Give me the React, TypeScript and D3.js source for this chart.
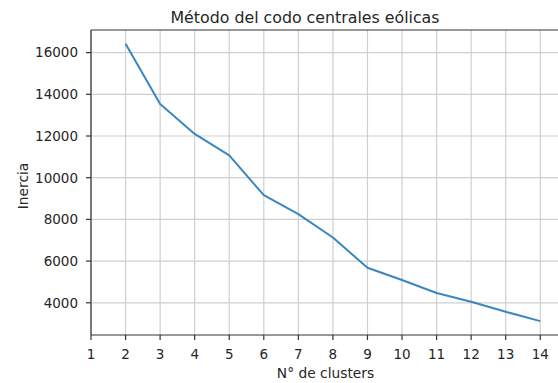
import React from "react";
import * as d3 from "d3";

const clusters = [2, 3, 4, 5, 6, 7, 8, 9, 10, 11, 12, 13, 14];
const inertia = [16420, 13540, 12100, 11070, 9160, 8250, 7130, 5680, 5090, 4470, 4050, 3570, 3120];
const xTicks = [1, 2, 3, 4, 5, 6, 7, 8, 9, 10, 11, 12, 13, 14];
const yTicks = [4000, 6000, 8000, 10000, 12000, 14000, 16000];

const W = 558;
const H = 383;
const M = { left: 91, top: 30, right: 561, bottom: 335 };

export default function App() {
  const [minV, maxV] = d3.extent(inertia) as [number, number];
  const pad = (maxV - minV) * 0.05;
  const x = d3.scaleLinear().domain([1, 14.6]).range([M.left, M.right]);
  const y = d3.scaleLinear().domain([minV - pad, maxV + pad]).range([M.bottom, M.top]);
  const line = d3
    .line<number>()
    .x((_, i) => x(clusters[i]))
    .y((d) => y(d));
  const font = "DejaVu Sans, sans-serif";
  const grid = "#cfcfcf";
  const axis = "#333";
  const txt = "#262626";
  return (
    <div style={{ position: "fixed", left: 0, top: 0 }}>
      <svg width={W} height={H} style={{ display: "block", background: "#fff" }} fontFamily={font}>
        {xTicks.map((t) => (
          <line key={"gx" + t} x1={x(t)} x2={x(t)} y1={M.top} y2={M.bottom} stroke={grid} strokeWidth={1.2} />
        ))}
        {yTicks.map((t) => (
          <line key={"gy" + t} x1={M.left} x2={M.right} y1={y(t)} y2={y(t)} stroke={grid} strokeWidth={1.2} />
        ))}
        <path d={line(inertia) || ""} fill="none" stroke="#3a87c0" strokeWidth={2} strokeLinejoin="round" />
        <line x1={M.left} x2={M.left} y1={M.top} y2={M.bottom} stroke={axis} strokeWidth={1.2} />
        <line x1={M.left} x2={M.right} y1={M.bottom} y2={M.bottom} stroke={axis} strokeWidth={1.2} />
        <line x1={M.left} x2={M.right} y1={M.top} y2={M.top} stroke={axis} strokeWidth={1.2} />
        {xTicks.map((t) => (
          <g key={"tx" + t}>
            <line x1={x(t)} x2={x(t)} y1={M.bottom} y2={M.bottom + 5} stroke={axis} strokeWidth={1.2} />
            <text x={x(t)} y={359} textAnchor="middle" fontSize={13.5} fill={txt}>
              {t}
            </text>
          </g>
        ))}
        {yTicks.map((t) => (
          <g key={"ty" + t}>
            <line x1={M.left - 5} x2={M.left} y1={y(t)} y2={y(t)} stroke={axis} strokeWidth={1.2} />
            <text x={78} y={y(t)} dy="0.36em" textAnchor="end" fontSize={13.5} fill={txt}>
              {t}
            </text>
          </g>
        ))}
        <text x={325.5} y={378} textAnchor="middle" fontSize={13.8} fill={txt}>
          N° de clusters
        </text>
        <text transform={`translate(28, 186) rotate(-90)`} textAnchor="middle" fontSize={13.8} fill={txt}>
          Inercia
        </text>
        <text x={305} y={23} textAnchor="middle" fontSize={15.8} fill={txt}>
          Método del codo centrales eólicas
        </text>
      </svg>
    </div>
  );
}
